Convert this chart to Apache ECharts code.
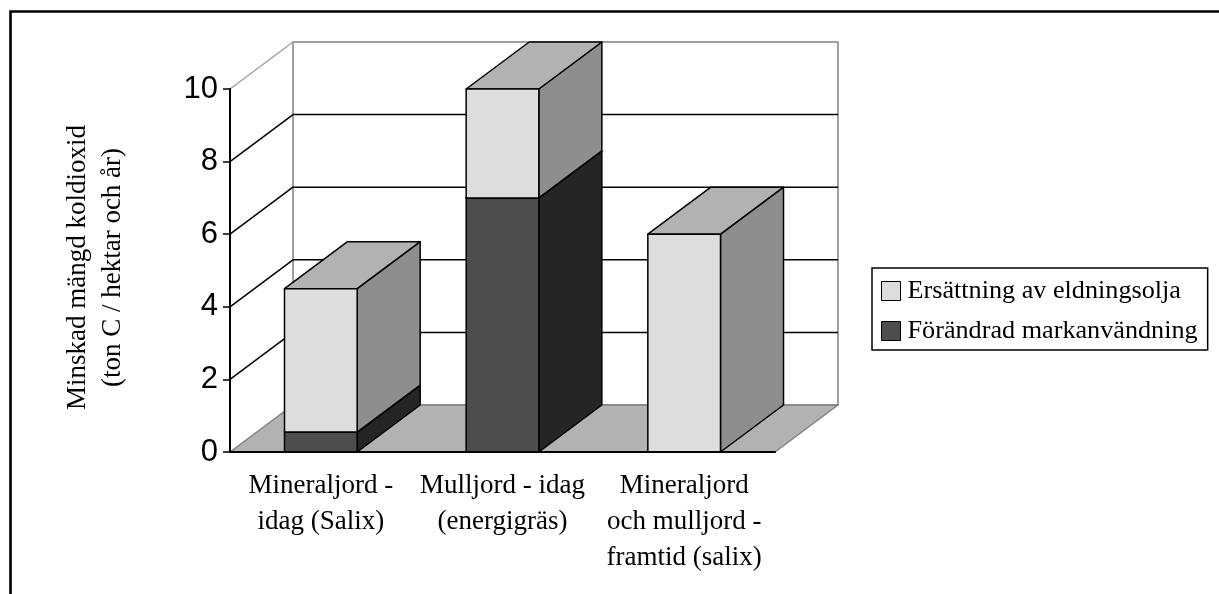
<!DOCTYPE html>
<html>
<head>
<meta charset="utf-8">
<style>
  html, body { margin: 0; padding: 0; background: #fff; }
  #chart { width: 1219px; height: 594px; }
</style>
<script src="https://cdn.jsdelivr.net/npm/echarts@6/dist/echarts.min.js"></script>
</head>
<body>
<div id="chart"></div>
<script>
const categories = ['Mineraljord -\nidag (Salix)', 'Mulljord - idag\n(energigräs)', 'Mineraljord\noch mulljord -\nframtid (salix)'];
const oljaValues = [3.95, 3.0, 6.0];
const markValues = [0.55, 7.0, 0];
const yTicks = [0, 2, 4, 6, 8, 10];
const oljaName = 'Ersättning av eldningsolja';
const markName = 'Förändrad markanvändning';

// 3D-djup i pixlar
const DX = 63;
const DY = -47;
const BAR_RATIO = 0.4;

const serif = '"Liberation Serif", serif';
const chart = echarts.init(document.getElementById('chart'));

const poly = (points, fill, stroke, lw) => ({
  type: 'polygon',
  shape: { points },
  style: { fill, stroke, lineWidth: lw, lineJoin: 'round' }
});
const line = (a, b, stroke, lw) => ({
  type: 'line',
  shape: { x1: a[0], y1: a[1], x2: b[0], y2: b[1] },
  style: { stroke, lineWidth: lw }
});
const back = (p) => [p[0] + DX, p[1] + DY];

// golv och väggar
const renderWalls = (params, api) => {
  const value = api.value(0);
  const a = api.coord([0, value]);
  const left = params.coordSys.x;
  const right = left + params.coordSys.width;
  const color = value === 10 ? '#a0a0a0' : '#000';
  const p1 = [left, a[1]];
  const p2 = back(p1);
  const p3 = [right + DX, p2[1]];
  const children = [];
  if (value === 0) {
    const top = api.coord([0, 10])[1] + DY;
    children.push(poly([[p2[0], top], [p3[0], top], p3, p2], '#fff', '#a0a0a0', 2));
    children.push(poly([p1, p2, p3, [right, a[1]]], '#b2b2b2', '#808080', 1.5));
  } else {
    children.push(line(p1, p2, color, 1.5));
    children.push(line(p2, p3, color, value === 10 ? 2 : 1.5));
  }
  return { type: 'group', children };
};

// en stapeldel: framsida, sida och topp
const barRenderer = (front, side, top) => (params, api) => {
  const idx = api.value(0);
  const start = api.value(1);
  const size = api.value(2);
  if (!size) return null;
  const c0 = api.coord([idx, start]);
  const c1 = api.coord([idx, start + size]);
  const w = api.size([1, 0])[0] * BAR_RATIO;
  const x0 = c0[0] - w / 2;
  const x1 = c0[0] + w / 2;
  const fl = [x0, c1[1]];
  const fr = [x1, c1[1]];
  const br = [x1, c0[1]];
  const children = [
    poly([fr, back(fr), back(br), br], side, '#000', 1.5),
    poly([fl, back(fl), back(fr), fr], top, '#000', 1.5),
    poly([fl, fr, br, [x0, c0[1]]], front, '#000', 1.5)
  ];
  return { type: 'group', children };
};

const option = {
  animation: false,
  backgroundColor: '#fff',
  textStyle: { fontFamily: serif },
  grid: { left: 230, right: 444, top: 89, bottom: 142 },
  legend: {
    data: [oljaName, markName],
    orient: 'vertical',
    left: 872,
    top: 268,
    padding: [10, 10, 6, 9],
    itemGap: 14,
    itemWidth: 19,
    itemHeight: 19,
    icon: 'rect',
    borderColor: '#000',
    borderWidth: 1.5,
    backgroundColor: '#fff',
    selectedMode: false,
    textStyle: { fontFamily: serif, fontSize: 26.2, color: '#000', padding: [0, 0, 0, 2] },
    itemStyle: { borderColor: '#000', borderWidth: 1 }
  },
  xAxis: {
    type: 'category',
    data: categories,
    z: 5,
    axisLine: { lineStyle: { color: '#000', width: 2 } },
    axisTick: { length: 7, lineStyle: { color: '#000', width: 1.5 } },
    axisLabel: {
      interval: 0,
      margin: 16,
      fontFamily: serif,
      fontSize: 27,
      lineHeight: 36,
      color: '#000'
    }
  },
  yAxis: {
    type: 'value',
    min: 0,
    max: 10,
    interval: 2,
    z: 5,
    name: 'Minskad mängd koldioxid\n(ton C / hektar och år)',
    nameLocation: 'middle',
    nameGap: 100,
    nameRotate: 90,
    nameTextStyle: { fontFamily: serif, fontSize: 27, lineHeight: 35, color: '#000', padding: [0, 0, 0, 6] },
    axisLine: { show: true, lineStyle: { color: '#000', width: 2 } },
    axisTick: { show: true, length: 7, lineStyle: { color: '#000', width: 1.5 } },
    axisLabel: { margin: 12, fontFamily: '"Liberation Sans", sans-serif', fontSize: 31, color: '#000', padding: [6, 0, 0, 0] },
    splitLine: { show: false }
  },
  series: [
    {
      type: 'custom',
      name: 'walls',
      renderItem: renderWalls,
      data: yTicks.map((t) => [t]),
      encode: { y: 0 },
      silent: true
    },
    {
      type: 'custom',
      name: markName,
      itemStyle: { color: '#4d4d4d' },
      renderItem: barRenderer('#4d4d4d', '#252525', '#252525'),
      data: markValues.map((v, i) => [i, 0, v]),
      encode: { x: 0, y: [1, 2] }
    },
    {
      type: 'custom',
      name: oljaName,
      itemStyle: { color: '#dddddd' },
      renderItem: barRenderer('#dddddd', '#8e8e8e', '#b2b2b2'),
      data: oljaValues.map((v, i) => [i, markValues[i], v]),
      encode: { x: 0, y: [1, 2] }
    }
  ],
  graphic: [
    {
      type: 'polyline',
      shape: { points: [[10.5, 600], [10.5, 11.5], [1225, 11.5]] },
      style: { fill: 'none', stroke: '#000', lineWidth: 2.6 }
    }
  ]
};

chart.setOption(option);
</script>
</body>
</html>
